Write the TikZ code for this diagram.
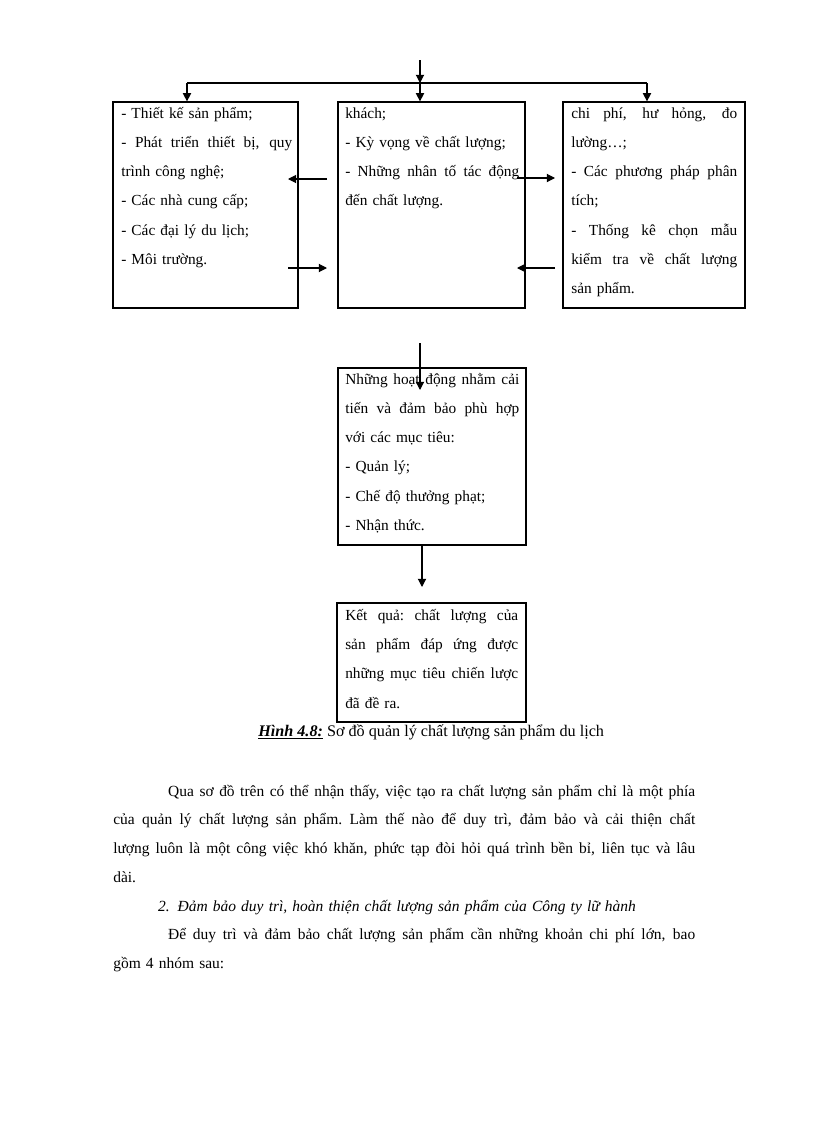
\documentclass[tikz,border=0pt]{standalone}
\usepackage{fontspec}
\setmainfont{Liberation Serif}
\usetikzlibrary{arrows.meta,fit}
\newcommand\jl[2]{\leavevmode\hbox to #1{\spaceskip=0.25em plus 1fil\xspaceskip=0.25em plus 1fil\relax #2}}
\begin{document}
\begin{tikzpicture}[x=0.7296pt,y=-0.7296pt,
  font=\fontsize{11.2}{21.4}\selectfont,
  box/.style={draw, line width=0.9pt, inner sep=0pt},
  txt/.style={anchor=base west, inner sep=0pt, align=left},
  arr/.style={line width=0.8pt, -{Triangle[length=6pt,width=6pt]}},
  ln/.style={line width=0.8pt}]
\useasboundingbox (0,0) rectangle (816,1123);

% boxes
\node[box, fit={(113,102) (298,308)}] (L) {};
\node[box, fit={(338,102) (525,308)}] (M) {};
\node[box, fit={(563,102) (745,308)}] (R) {};
\node[box, fit={(338,368) (526,545)}] (A) {};
\node[box, fit={(337,603) (526,722)}] (K) {};

% texts
\node[txt, text width=124.8pt] (Lt) at (121,118) {- Thiết kế sản phẩm;\\ \jl{124.8pt}{- Phát triển thiết bị, quy}\\ trình công nghệ;\\ - Các nhà cung cấp;\\ - Các đại lý du lịch;\\ - Môi trường.};
\node[txt, text width=127pt] (Mt) at (345,118) {khách;\\ - Kỳ vọng về chất lượng;\\ \jl{127pt}{- Những nhân tố tác động}\\ đến chất lượng.};
\node[txt, text width=121.1pt] (Rt) at (571,118) {\jl{121.1pt}{chi phí, hư hỏng, đo}\\ lường…;\\ \jl{121.1pt}{- Các phương pháp phân}\\ tích;\\ \jl{121.1pt}{- Thống kê chọn mẫu}\\ \jl{121.1pt}{kiểm tra về chất lượng}\\ sản phẩm.};
\node[txt, text width=127pt] (At) at (345,384) {\jl{127pt}{Những hoạt động nhằm cải}\\ \jl{127pt}{tiến và đảm bảo phù hợp}\\ với các mục tiêu:\\ - Quản lý;\\ - Chế độ thưởng phạt;\\ - Nhận thức.};
\node[txt, text width=126.2pt] (Kt) at (345,620) {\jl{126.2pt}{Kết quả: chất lượng của}\\ \jl{126.2pt}{sản phẩm đáp ứng được}\\ \jl{126.2pt}{những mục tiêu chiến lược}\\ đã đề ra.};

% top distribution
\coordinate (top) at (420,60);
\coordinate (j) at (420,83);
\coordinate (jl) at (187,83);
\coordinate (jr) at (647,83);
\draw[arr] (top) -- (j);
\draw[arr] (j) -- (j |- M.north);
\draw[ln] (jl) -- (jr);
\draw[arr] (jl) -- (jl |- L.north);
\draw[arr] (jr) -- (jr |- R.north);

% side arrows
\coordinate (s1) at (327,179); \coordinate (e1) at (288,179);
\coordinate (s2) at (288,268); \coordinate (e2) at (327,268);
\coordinate (s3) at (517,178); \coordinate (e3) at (555,178);
\coordinate (s4) at (555,268); \coordinate (e4) at (517,268);
\draw[arr] (s1) -- (e1);
\draw[arr] (s2) -- (e2);
\draw[arr] (s3) -- (e3);
\draw[arr] (s4) -- (e4);

% vertical arrows
\coordinate (v1) at (420,343);
\coordinate (v1e) at (420,390);
\draw[arr] (v1) -- (v1e);
\coordinate (v2e) at (422,587);
\draw[arr] (v2e |- A.south) -- (v2e);

% caption
\node[anchor=base west, inner sep=0pt, font=\fontsize{11.8}{14}\selectfont] (cap) at (258,736) {\textbf{\textit{\underline{Hình 4.8:}}} Sơ đồ quản lý chất lượng sản phẩm du lịch};

% body text
\node[txt, text width=424.6pt, font=\fontsize{11.3}{21}\selectfont] (body) at (113,796) {%
\hspace*{40.1pt}\jl{384.5pt}{Qua sơ đồ trên có thể nhận thấy, việc tạo ra chất lượng sản phẩm chỉ là một phía}\\
\jl{424.6pt}{của quản lý chất lượng sản phẩm. Làm thế nào để duy trì, đảm bảo và cải thiện chất}\\
\jl{424.6pt}{lượng luôn là một công việc khó khăn, phức tạp đòi hỏi quá trình bền bỉ, liên tục và lâu}\\
dài.\\
\hspace*{32.8pt}\textit{2. Đảm bảo duy trì, hoàn thiện chất lượng sản phẩm của Công ty lữ hành}\\
\hspace*{40.1pt}\jl{384.5pt}{Để duy trì và đảm bảo chất lượng sản phẩm cần những khoản chi phí lớn, bao}\\
gồm 4 nhóm sau:};
\end{tikzpicture}
\end{document}
